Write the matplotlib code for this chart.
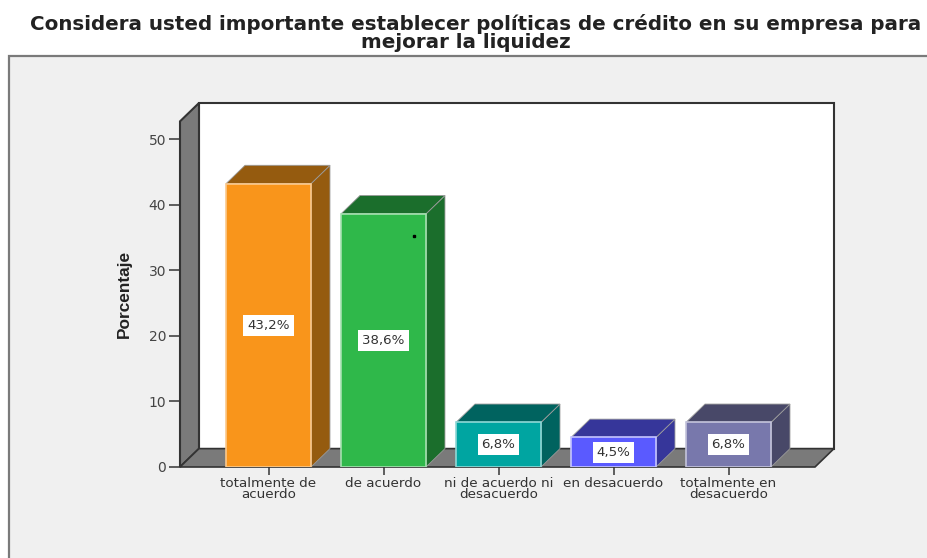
# -*- coding:utf-8 -*-

import matplotlib
matplotlib.use("Agg")
import matplotlib.pyplot as plt
from matplotlib.patches import Polygon, Rectangle

titulo_1 = "Considera usted importante establecer políticas de crédito en su empresa para"
titulo_2 = "mejorar la liquidez"
categorias = ["totalmente de\nacuerdo", "de acuerdo", "ni de acuerdo ni\ndesacuerdo",
              "en desacuerdo", "totalmente en\ndesacuerdo"]
porcentajes = [43.2, 38.6, 6.8, 4.5, 6.8]
etiquetas = ["43,2%", "38,6%", "6,8%", "4,5%", "6,8%"]
colores = ["#F9951B", "#2FB84A", "#00A5A1", "#5A5AFF", "#7878AC"]
oscuros = ["#955B0F", "#1B6E2C", "#00635F", "#36369A", "#484868"]
bordes = ["#FBC98D", "#A5E0B0", "#8FD8D6", "#C4C4FF", "#C4C4DC"]
marcas_y = [0, 10, 20, 30, 40, 50]

W, H = 928, 558
fig = plt.figure(figsize=(W / 100, H / 100), dpi=100, facecolor="white")

# panel gris del fondo
fig.add_artist(Rectangle((9 / W, -0.01), 1.0, 1.01 - 56 / H, transform=fig.transFigure,
                         facecolor="#F0F0F0", edgecolor="#7A7A7A", linewidth=1.6, zorder=-1))

fig.text(30 / W, 1 - 24 / H, titulo_1, ha="left", va="center", fontsize=14.35,
         fontweight="bold", color="#222222", family="DejaVu Sans")
fig.text(466 / W, 1 - 42 / H, titulo_2, ha="center", va="center", fontsize=14.3,
         fontweight="bold", color="#222222", family="DejaVu Sans")

# ejes: x de 180 a 835 px, y de 467 a 103 px
ax = fig.add_axes([180 / W, 1 - 467 / H, 655 / W, 364 / H])
ax.set_xlim(-0.7696, 4.926)
ax.set_ylim(0, 55.5)
ax.patch.set_alpha(0)
for s in ax.spines.values():
    s.set_visible(False)

prof_x = 0.165   # profundidad 3D en unidades de categoria
prof_y = 2.8     # profundidad 3D en unidades de porcentaje
x0 = -0.7696
x1 = 4.752
techo = 52.7
ancho = 0.739

# pared del fondo, pared izquierda y piso
ax.add_patch(Polygon([(x0 + prof_x, prof_y), (x1 + prof_x, prof_y), (x1 + prof_x, techo + prof_y),
                      (x0 + prof_x, techo + prof_y)], closed=True, facecolor="white",
                     edgecolor="#333333", linewidth=1.5, clip_on=False, zorder=1))
ax.add_patch(Polygon([(x0, 0), (x0 + prof_x, prof_y), (x0 + prof_x, techo + prof_y), (x0, techo)],
                     closed=True, facecolor="#7A7A7A", edgecolor="#333333", linewidth=1.5,
                     clip_on=False, zorder=2))
ax.add_patch(Polygon([(x0, 0), (x1, 0), (x1 + prof_x, prof_y), (x0 + prof_x, prof_y)],
                     closed=True, facecolor="#7A7A7A", edgecolor="#333333", linewidth=1.2,
                     clip_on=False, zorder=2))

for i, v in enumerate(porcentajes):
    izq = i - ancho / 2
    der = i + ancho / 2
    ax.add_patch(Polygon([(der, 0), (der + prof_x, prof_y), (der + prof_x, v + prof_y), (der, v)],
                         closed=True, facecolor=oscuros[i], edgecolor="#9A9A9A", linewidth=0.6,
                         zorder=3))
    ax.add_patch(Polygon([(izq, v), (der, v), (der + prof_x, v + prof_y), (izq + prof_x, v + prof_y)],
                         closed=True, facecolor=oscuros[i], edgecolor="#9A9A9A", linewidth=0.6,
                         zorder=3))
    ax.bar(i, v, width=ancho, color=colores[i], edgecolor=bordes[i], linewidth=1.2, zorder=4)
    ax.text(i, v / 2, etiquetas[i], ha="center", va="center", fontsize=9.6, color="#333333",
            family="DejaVu Sans", zorder=5,
            bbox=dict(facecolor="white", edgecolor="none", boxstyle="square,pad=0.3"))

# punto negro suelto sobre la barra verde
ax.plot([1.265], [35.2], marker="s", markersize=1.6, color="black", zorder=6)

ax.set_yticks(marcas_y)
ax.set_xticks(range(len(categorias)))
ax.set_xticklabels(categorias, fontsize=9.7, color="#333333", linespacing=0.8, family="DejaVu Sans")
ax.tick_params(axis="y", length=8, width=1.2, color="#444444", labelsize=10,
               labelcolor="#444444", pad=2)
ax.tick_params(axis="x", length=6, width=1.2, color="#444444", pad=1)

fig.text(124 / W, 1 - 294 / H, "Porcentaje", rotation=90, ha="center", va="center",
         fontsize=12.4, fontweight="bold", color="#222222",
         family=["Liberation Sans Narrow", "Liberation Sans"])

fig.savefig("out.png", dpi=100)
